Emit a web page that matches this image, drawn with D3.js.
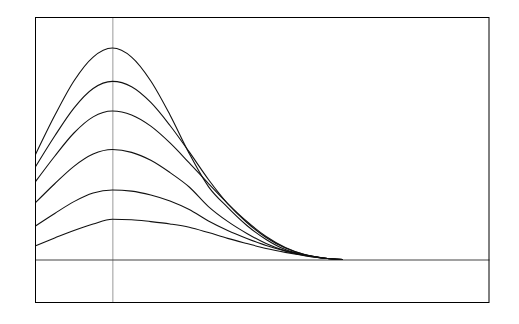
<!DOCTYPE html>
<html>
<head>
<meta charset="utf-8">
<script src="https://cdn.jsdelivr.net/npm/d3@7"></script>
<style>
  html, body { margin: 0; padding: 0; background: #fff; }
  #chart { width: 519px; height: 324px; }
</style>
</head>
<body>
<div id="chart"></div>
<script>
// Sample positions along x (same for every curve)
const xs = [-1, -0.75, -0.5, -0.25, 0, 0.25, 0.5, 0.75, 1, 1.25, 1.5, 1.75, 2, 2.25, 2.5, 2.75, 3]
// Curve values, tallest to lowest
const curve1 = [0.488, 0.669, 0.830, 0.941, 0.983, 0.941, 0.830, 0.672, 0.493, 0.339, 0.242, 0.158, 0.093, 0.046, 0.021, 0.006, 0]
const curve2 = [0.431, 0.574, 0.704, 0.795, 0.828, 0.803, 0.730, 0.623, 0.500, 0.372, 0.260, 0.172, 0.102, 0.053, 0.023, 0.007, 0]
const curve3 = [0.362, 0.480, 0.588, 0.663, 0.690, 0.672, 0.620, 0.542, 0.449, 0.353, 0.260, 0.177, 0.107, 0.056, 0.023, 0.007, 0]
const curve4 = [0.264, 0.352, 0.433, 0.490, 0.511, 0.498, 0.461, 0.404, 0.337, 0.246, 0.177, 0.121, 0.074, 0.040, 0.019, 0.006, 0]
const curve5 = [0.156, 0.214, 0.269, 0.309, 0.323, 0.318, 0.300, 0.272, 0.232, 0.179, 0.135, 0.098, 0.065, 0.040, 0.021, 0.007, 0]
const curve6 = [0.064, 0.100, 0.135, 0.165, 0.187, 0.185, 0.176, 0.165, 0.150, 0.125, 0.098, 0.074, 0.051, 0.033, 0.018, 0.006, 0]
const curves = [curve1, curve2, curve3, curve4, curve5, curve6]

const xDomain = [-1, 4.9]
const yDomain = [-0.2, 1.125]

;(({ selector, width, height, box }) => {
  const svg = d3.select(selector)
    .append('svg')
    .attr('width', width)
    .attr('height', height)

  const x = d3.scaleLinear().domain(xDomain).range([box.left, box.right])
  const y = d3.scaleLinear().domain(yDomain).range([box.bottom, box.top])

  // vertical reference line at x = 0
  svg.append('g')
    .attr('transform', `translate(${x(0)},0)`)
    .call(d3.axisLeft(y).ticks(0).tickSizeOuter(0))
    .call(g => g.select('.domain').attr('stroke', '#999').attr('stroke-width', 1))

  // horizontal baseline at y = 0
  svg.append('g')
    .attr('transform', `translate(0,${y(0)})`)
    .call(d3.axisBottom(x).ticks(0).tickSizeOuter(0))
    .call(g => g.select('.domain').attr('stroke', '#444').attr('stroke-width', 1.2))

  const line = d3.line()
    .x((d, i) => x(xs[i]))
    .y(d => y(d))
    .curve(d3.curveMonotoneX)

  svg.append('g')
    .selectAll('path')
    .data(curves)
    .join('path')
    .attr('d', line)
    .attr('fill', 'none')
    .attr('stroke', '#111')
    .attr('stroke-width', 1.1)

  // frame
  svg.append('rect')
    .attr('x', box.left)
    .attr('y', box.top)
    .attr('width', box.right - box.left)
    .attr('height', box.bottom - box.top)
    .attr('fill', 'none')
    .attr('stroke', '#000')
    .attr('stroke-width', 1)
})({
  selector: '#chart',
  width: 519,
  height: 324,
  box: { left: 35.5, right: 489, top: 17.5, bottom: 302.5 }
})
</script>
</body>
</html>
